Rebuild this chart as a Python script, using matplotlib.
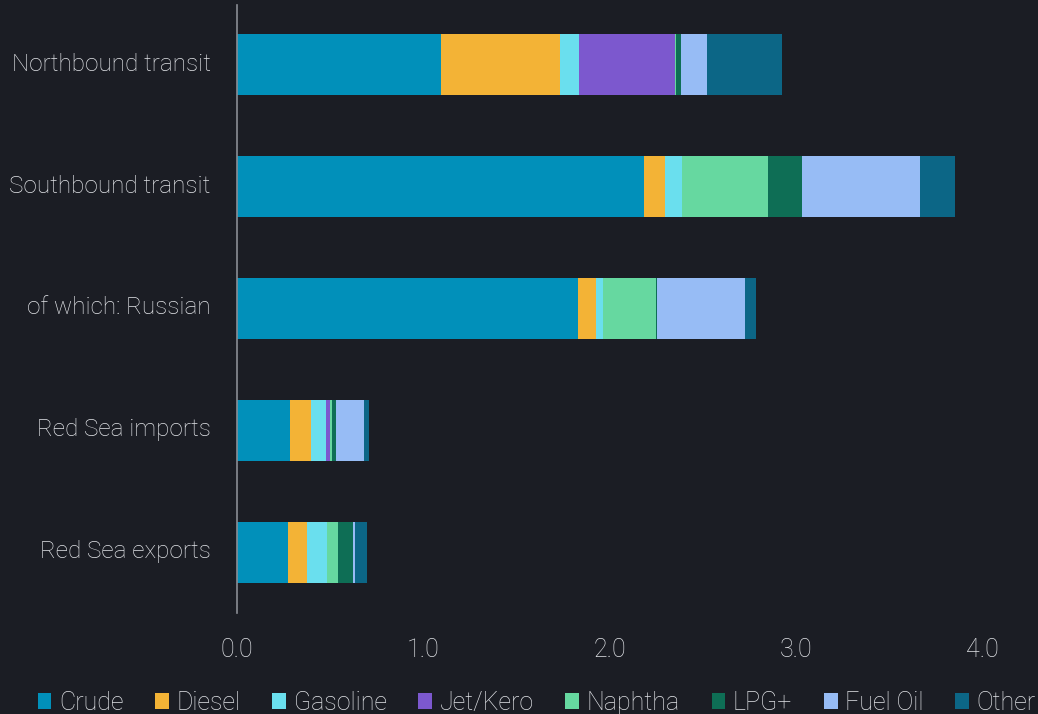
import matplotlib.pyplot as plt
import matplotlib.transforms as mtransforms
from matplotlib.patches import Patch
import numpy as np

plt.rcParams['font.family'] = ['Roboto', 'DejaVu Sans']

categories = ['Northbound transit', 'Southbound transit', 'of which: Russian',
              'Red Sea imports', 'Red Sea exports']
products = ['Crude', 'Diesel', 'Gasoline', 'Jet/Kero', 'Naphtha', 'LPG+', 'Fuel Oil', 'Other']

crude    = [1.093, 2.186, 1.830, 0.284, 0.272]
diesel   = [0.641, 0.112, 0.096, 0.115, 0.104]
gasoline = [0.101, 0.089, 0.038, 0.077, 0.107]
jet_kero = [0.518, 0.000, 0.000, 0.023, 0.000]
naphtha  = [0.005, 0.463, 0.285, 0.009, 0.061]
lpg      = [0.025, 0.185, 0.004, 0.023, 0.080]
fuel_oil = [0.140, 0.631, 0.473, 0.151, 0.009]
other    = [0.403, 0.190, 0.061, 0.028, 0.063]

series = [crude, diesel, gasoline, jet_kero, naphtha, lpg, fuel_oil, other]
colors = ['#0190ba', '#f3b336', '#6adfee', '#7c58ce', '#66d8a0', '#0e6e55', '#97bcf5', '#0c6686']

bg = '#1b1d24'
txt = '#e2e4e8'

fig = plt.figure(figsize=(10.38, 7.14), dpi=100, facecolor=bg)
ax = fig.add_axes([0.2283, 0.1415, 0.7717, 0.8515], facecolor=bg)

y = np.arange(len(categories))
left = np.zeros(len(categories))
for vals, col in zip(series, colors):
    vals = np.array(vals)
    ax.barh(y, vals, left=left, height=0.5, color=col, linewidth=0)
    left += vals

ax.set_ylim(len(categories) - 0.5, -0.49)
ax.set_xlim(0, 4.3)
ax.set_yticks(y)
ax.set_yticklabels(categories, fontsize=17.5, color=txt, fontweight='light')
ax.set_xticks([0, 1, 2, 3, 4])
ax.set_xticklabels(['0.0', '1.0', '2.0', '3.0', '4.0'], fontsize=18, color=txt, fontweight='light')
ax.tick_params(axis='y', length=0, pad=19)
ax.tick_params(axis='x', length=0, pad=18)

# nudge category labels up a little
shift = mtransforms.ScaledTranslation(0, 3 / 100, fig.dpi_scale_trans)
for lab in ax.get_yticklabels():
    lab.set_transform(lab.get_transform() + shift)

for s in ['top', 'right', 'bottom']:
    ax.spines[s].set_visible(False)
ax.spines['left'].set_color('#8a8d94')
ax.spines['left'].set_linewidth(1.2)

handles = [Patch(facecolor=c, edgecolor='none') for c in colors]
leg = fig.legend(handles, products, loc='lower center', bbox_to_anchor=(0.517, -0.033),
                 ncol=8, frameon=False, fontsize=18, handlelength=0.55, handleheight=0.6,
                 handletextpad=0.3, columnspacing=1.27)
for t in leg.get_texts():
    t.set_color(txt)
    t.set_fontweight('light')

fig.savefig('out.png', dpi=100, facecolor=bg)
